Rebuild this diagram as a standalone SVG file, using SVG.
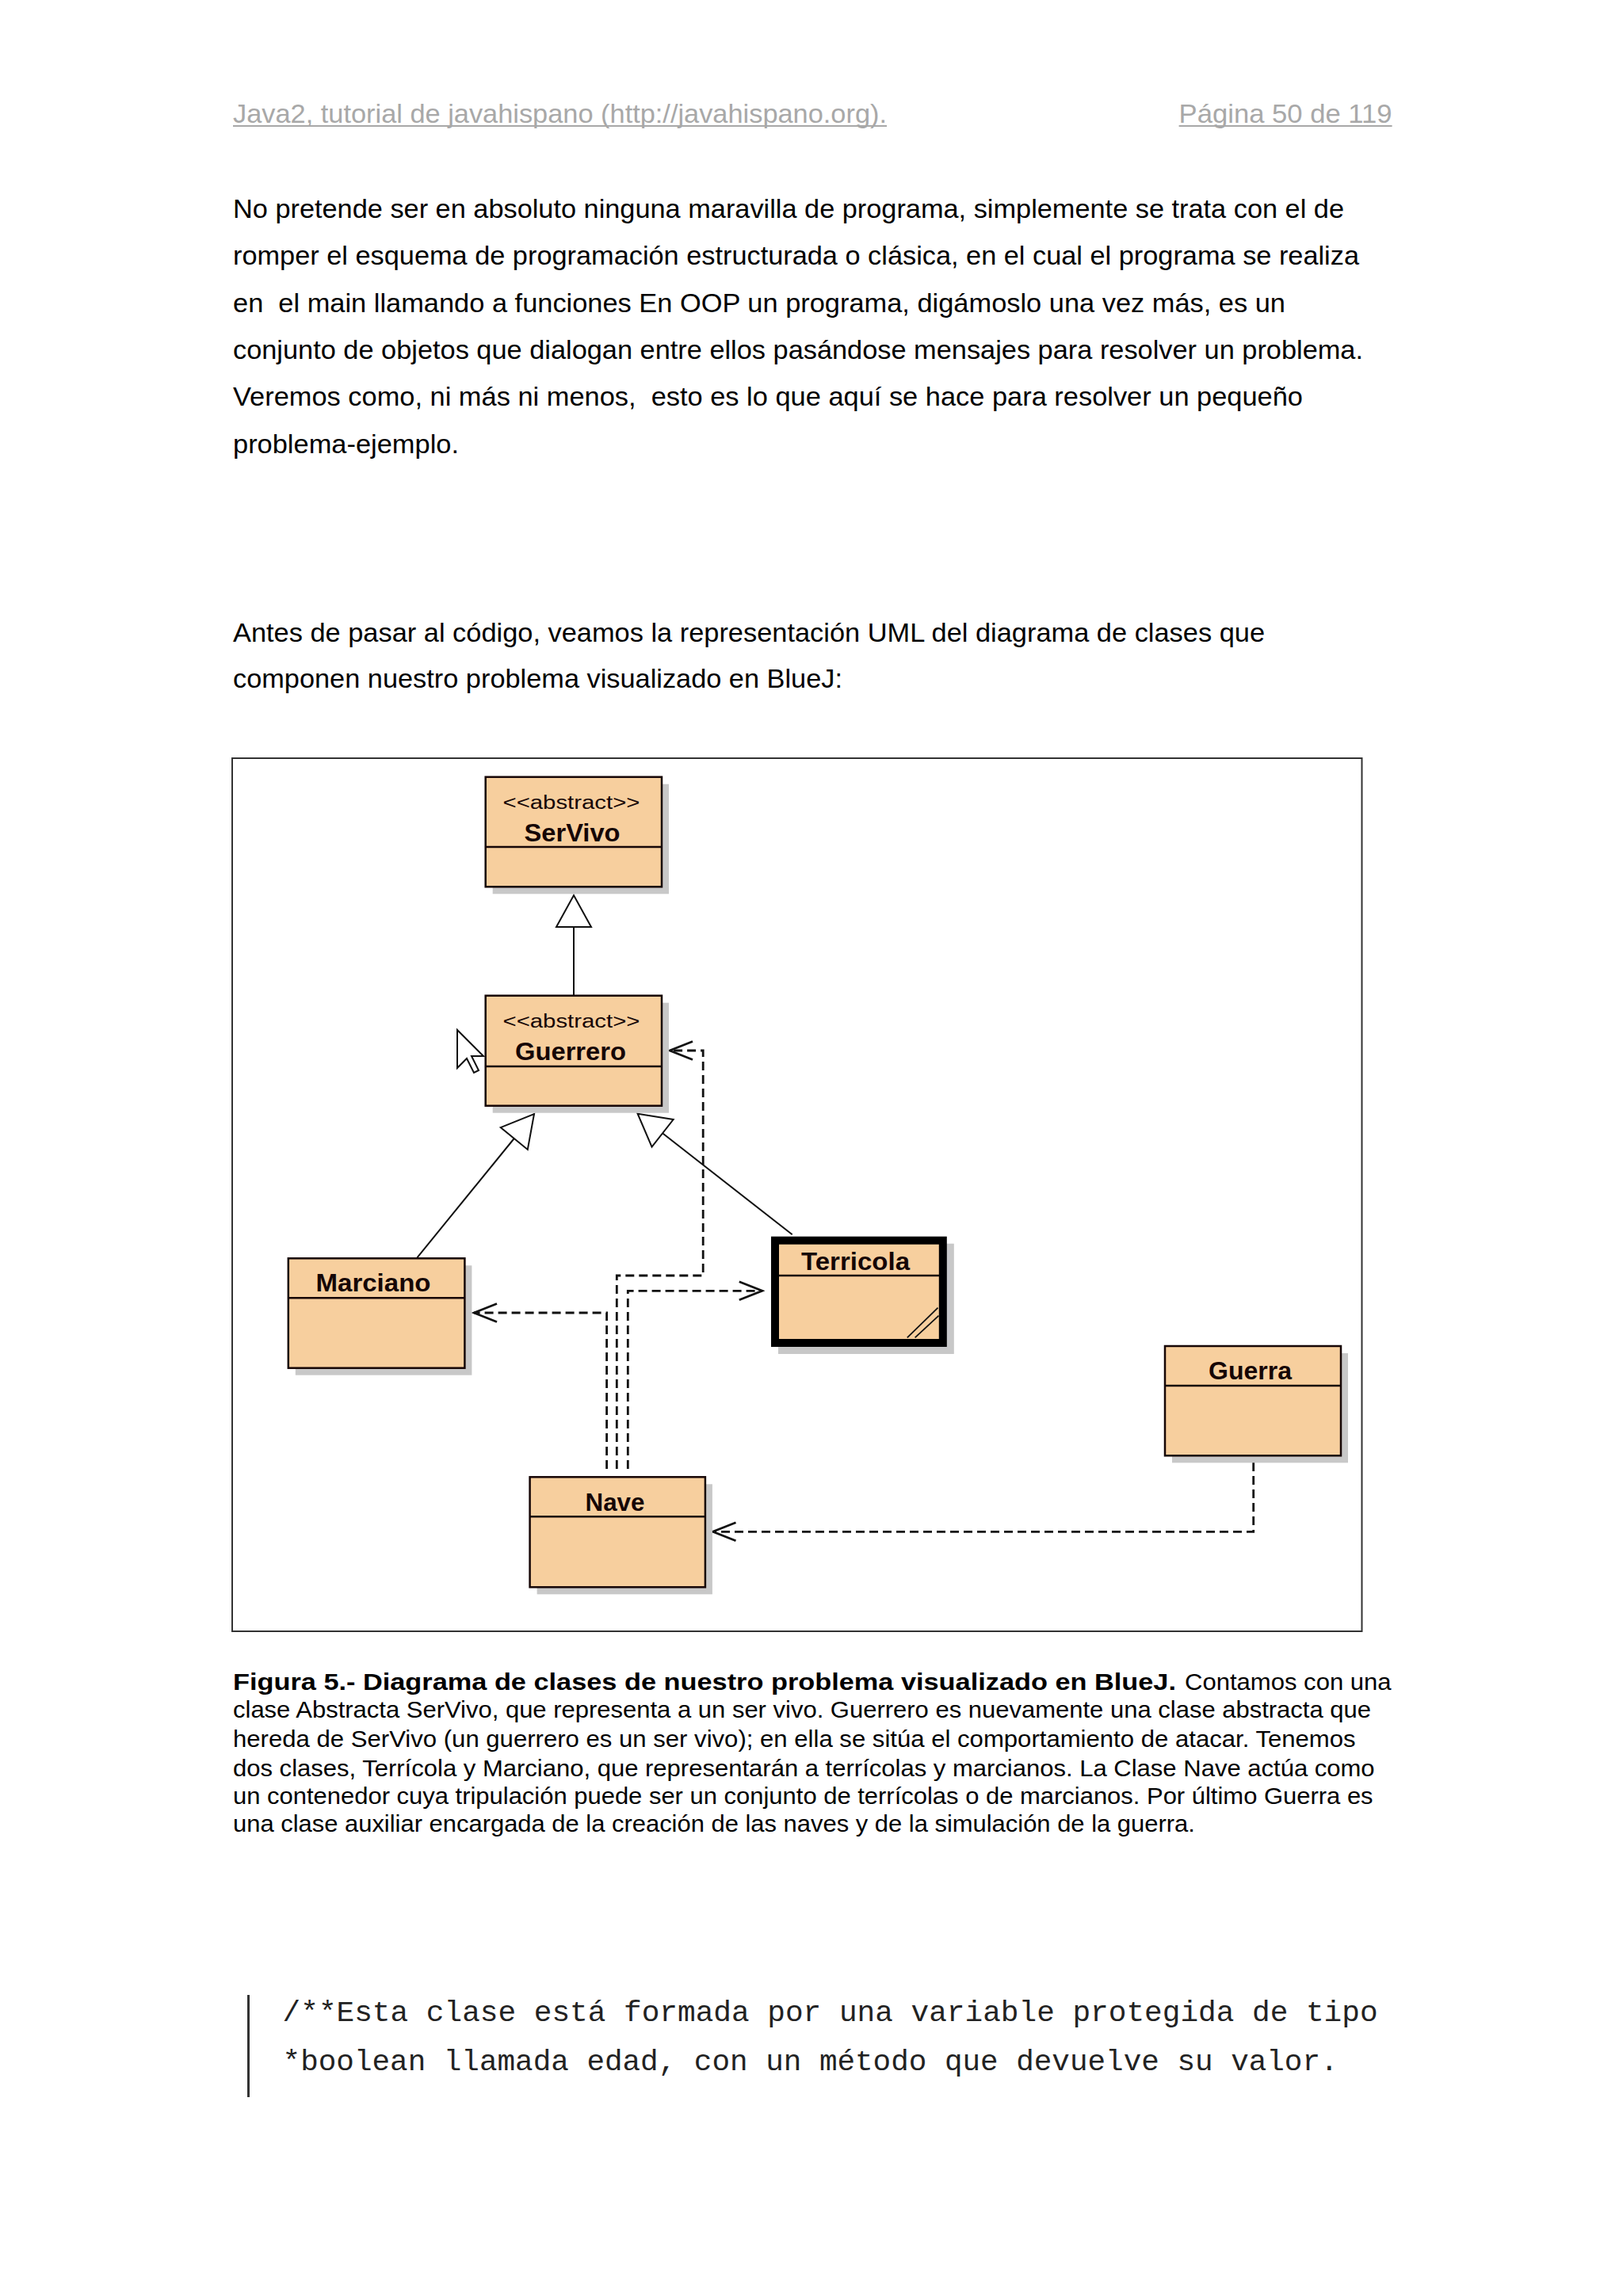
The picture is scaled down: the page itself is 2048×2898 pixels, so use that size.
<svg xmlns="http://www.w3.org/2000/svg" width="2048" height="2898" viewBox="0 0 2048 2898">
<style>
.t{font-family:"Liberation Sans",Arial,sans-serif;fill:#000}
.body{font-size:33.5px;white-space:pre}
.hdr{font-size:34px;fill:#a8a8a8}
.cap{font-size:29.5px}
.capb{font-size:29.5px;font-weight:bold}
.code{font-family:"Liberation Mono","Courier New",monospace;font-size:37.7px;fill:#222}
.box{fill:#f7cf9e;stroke:#160606;stroke-width:2.5}
.shadow{fill:#c8c8c8}
.div{stroke:#160606;stroke-width:2.5}
.name{font-family:"Liberation Sans",Arial,sans-serif;font-weight:bold;font-size:32px;fill:#160606;text-anchor:middle}
.stereo{font-family:"Liberation Sans",Arial,sans-serif;font-size:23px;fill:#160606;text-anchor:middle}
.dep{fill:none;stroke:#111;stroke-width:2.8;stroke-dasharray:11 6}
.inh{fill:none;stroke:#111;stroke-width:2}
</style>
<defs>
<marker id="open" markerUnits="userSpaceOnUse" markerWidth="34" markerHeight="30" viewBox="0 0 34 30" refX="31" refY="15" orient="auto">
<path d="M2 3.5 L31 15 L2 26.5" fill="none" stroke="#111" stroke-width="2.8"/>
</marker>
<marker id="tri" markerUnits="userSpaceOnUse" markerWidth="46" markerHeight="50" viewBox="0 0 46 50" refX="43" refY="25" orient="auto">
<path d="M3 3 L43 25 L3 47 Z" fill="#fff" stroke="#111" stroke-width="2"/>
</marker>
</defs>
<rect x="0" y="0" width="2048" height="2898" fill="#fff"/>

<g id="header">
<text class="t hdr" x="294" y="155" textLength="825" lengthAdjust="spacingAndGlyphs">Java2, tutorial de javahispano (http://javahispano.org).</text>
<text class="t hdr" x="1487.6" y="155" textLength="269" lengthAdjust="spacingAndGlyphs">Página 50 de 119</text>
<line x1="294" y1="159" x2="1119" y2="159" stroke="#a8a8a8" stroke-width="2"/>
<line x1="1487.6" y1="159" x2="1756.6" y2="159" stroke="#a8a8a8" stroke-width="2"/>
</g>

<g id="paragraph1">
<text class="t body" x="294" y="275" textLength="1402" lengthAdjust="spacingAndGlyphs">No pretende ser en absoluto ninguna maravilla de programa, simplemente se trata con el de</text>
<text class="t body" x="294" y="334" textLength="1421" lengthAdjust="spacingAndGlyphs">romper el esquema de programación estructurada o clásica, en el cual el programa se realiza</text>
<text class="t body" x="294" y="393.5" textLength="1328" lengthAdjust="spacingAndGlyphs">en  el main llamando a funciones En OOP un programa, digámoslo una vez más, es un</text>
<text class="t body" x="294" y="453" textLength="1426" lengthAdjust="spacingAndGlyphs">conjunto de objetos que dialogan entre ellos pasándose mensajes para resolver un problema.</text>
<text class="t body" x="294" y="512" textLength="1350" lengthAdjust="spacingAndGlyphs">Veremos como, ni más ni menos,  esto es lo que aquí se hace para resolver un pequeño</text>
<text class="t body" x="294" y="571.5" textLength="285" lengthAdjust="spacingAndGlyphs">problema-ejemplo.</text>
</g>

<g id="paragraph2">
<text class="t body" x="294" y="810" textLength="1302" lengthAdjust="spacingAndGlyphs">Antes de pasar al código, veamos la representación UML del diagrama de clases que</text>
<text class="t body" x="294" y="868.3" textLength="769" lengthAdjust="spacingAndGlyphs">componen nuestro problema visualizado en BlueJ:</text>
</g>

<g id="figure-frame">
<rect x="293" y="957" width="1425.5" height="1102" fill="#fff" stroke="#333" stroke-width="2"/>
</g>

<g id="connectors">
<path class="inh" d="M724 1256.7 L724 1130" marker-end="url(#tri)"/>
<path class="inh" d="M526.4 1587.3 L674 1406" marker-end="url(#tri)"/>
<path class="inh" d="M999.7 1558.3 L804.6 1405.7" marker-end="url(#tri)"/>
<path class="dep" d="M778.3 1854 V1610 H887.2 V1326 H845" marker-end="url(#open)"/>
<path class="dep" d="M792.3 1854 V1629.3 H961.8" marker-end="url(#open)"/>
<path class="dep" d="M765.6 1854 V1657 H598" marker-end="url(#open)"/>
<path class="dep" d="M1581.7 1846 V1933.3 H899.5" marker-end="url(#open)"/>
</g>

<g id="SerVivo">
<rect class="shadow" x="621.7" y="989.7" width="222.3" height="138.6"/>
<rect class="box" x="612.7" y="980.7" width="222.3" height="138.6"/>
<line class="div" x1="612.7" y1="1069" x2="835" y2="1069"/>
<text class="stereo" x="721" y="1021" textLength="173" lengthAdjust="spacingAndGlyphs">&lt;&lt;abstract&gt;&gt;</text>
<text class="name" x="722" y="1061.7" textLength="121" lengthAdjust="spacingAndGlyphs">SerVivo</text>
</g>

<g id="Guerrero">
<rect class="shadow" x="621.7" y="1265.7" width="222.3" height="139"/>
<rect class="box" x="612.7" y="1256.7" width="222.3" height="139"/>
<line class="div" x1="612.7" y1="1346" x2="835" y2="1346"/>
<text class="stereo" x="721" y="1296.7" textLength="173" lengthAdjust="spacingAndGlyphs">&lt;&lt;abstract&gt;&gt;</text>
<text class="name" x="720" y="1338" textLength="140" lengthAdjust="spacingAndGlyphs">Guerrero</text>
</g>

<g id="cursor">
<polygon points="577,1300 577,1348 589,1336 598,1354 604,1351 595,1333 610,1333" fill="#fff" stroke="#111" stroke-width="2" stroke-linejoin="miter"/>
</g>

<g id="Marciano">
<rect class="shadow" x="372.8" y="1597.3" width="222.6" height="138.4"/>
<rect class="box" x="363.8" y="1588.3" width="222.6" height="138.4"/>
<line class="div" x1="363.8" y1="1638.3" x2="586.4" y2="1638.3"/>
<text class="name" x="471" y="1630" textLength="145" lengthAdjust="spacingAndGlyphs">Marciano</text>
</g>

<g id="Terricola">
<rect class="shadow" x="982" y="1569.7" width="221.8" height="139.3"/>
<rect x="978" y="1565.7" width="211.8" height="129.3" fill="#f7cf9e" stroke="#000" stroke-width="10"/>
<line class="div" x1="983" y1="1610" x2="1185" y2="1610"/>
<text class="name" x="1079.5" y="1603" textLength="137" lengthAdjust="spacingAndGlyphs">Terricola</text>
<line x1="1144.8" y1="1688.3" x2="1183.5" y2="1650.7" stroke="#111" stroke-width="1.8"/>
<line x1="1154.6" y1="1688.3" x2="1184.5" y2="1660.7" stroke="#111" stroke-width="1.8"/>
</g>

<g id="Guerra">
<rect class="shadow" x="1479" y="1708" width="222" height="138.3"/>
<rect class="box" x="1470" y="1699" width="222" height="138.3"/>
<line class="div" x1="1470" y1="1749" x2="1692" y2="1749"/>
<text class="name" x="1577.5" y="1740.7" textLength="105" lengthAdjust="spacingAndGlyphs">Guerra</text>
</g>

<g id="Nave">
<rect class="shadow" x="677.6" y="1873.3" width="221.3" height="139"/>
<rect class="box" x="668.6" y="1864.3" width="221.3" height="139"/>
<line class="div" x1="668.6" y1="1914.3" x2="889.9" y2="1914.3"/>
<text class="name" x="776" y="1906.7" textLength="75" lengthAdjust="spacingAndGlyphs">Nave</text>
</g>

<g id="caption">
<text class="t capb" x="294" y="2132.7" textLength="1190" lengthAdjust="spacingAndGlyphs">Figura 5.- Diagrama de clases de nuestro problema visualizado en BlueJ.</text>
<text class="t cap" x="1495" y="2132.7" textLength="260.6" lengthAdjust="spacingAndGlyphs">Contamos con una</text>
<text class="t cap" x="294" y="2168" textLength="1436" lengthAdjust="spacingAndGlyphs">clase Abstracta SerVivo, que representa a un ser vivo. Guerrero es nuevamente una clase abstracta que</text>
<text class="t cap" x="294" y="2205" textLength="1416.6" lengthAdjust="spacingAndGlyphs">hereda de SerVivo (un guerrero es un ser vivo); en ella se sitúa el comportamiento de atacar. Tenemos</text>
<text class="t cap" x="294" y="2241.7" textLength="1440.6" lengthAdjust="spacingAndGlyphs">dos clases, Terrícola y Marciano, que representarán a terrícolas y marcianos. La Clase Nave actúa como</text>
<text class="t cap" x="294" y="2276.7" textLength="1438.6" lengthAdjust="spacingAndGlyphs">un contenedor cuya tripulación puede ser un conjunto de terrícolas o de marcianos. Por último Guerra es</text>
<text class="t cap" x="294" y="2311.7" textLength="1213.8" lengthAdjust="spacingAndGlyphs">una clase auxiliar encargada de la creación de las naves y de la simulación de la guerra.</text>
</g>

<g id="code">
<line x1="313.5" y1="2518" x2="313.5" y2="2647" stroke="#333" stroke-width="3"/>
<text class="code" x="356.6" y="2550.7" textLength="1382" lengthAdjust="spacingAndGlyphs">/**Esta clase está formada por una variable protegida de tipo</text>
<text class="code" x="356.6" y="2613" textLength="1332" lengthAdjust="spacingAndGlyphs">*boolean llamada edad, con un método que devuelve su valor.</text>
</g>
</svg>
